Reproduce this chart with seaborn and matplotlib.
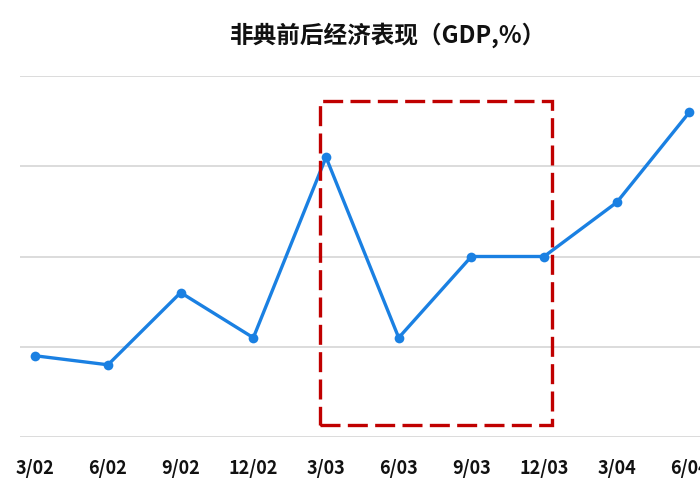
import pandas as pd
import matplotlib
matplotlib.use("Agg")
import matplotlib.pyplot as plt
import matplotlib.patches as patches
import seaborn as sns

# quarterly GDP growth (%)
quarters = ["3/02", "6/02", "9/02", "12/02", "3/03", "6/03", "9/03", "12/03", "3/04", "6/04"]
gdp = [8.9, 8.8, 9.6, 9.1, 11.1, 9.1, 10.0, 10.0, 10.6, 11.6]
y_ticks = [8, 9, 10, 11, 12]

df = pd.DataFrame({"quarter": quarters, "gdp": gdp})

sns.set_style("white")
plt.rcParams["font.family"] = ["Noto Sans CJK SC", "DejaVu Sans"]

fig = plt.figure(figsize=(7, 5), dpi=100)
ax = fig.add_axes([20 / 700, 63 / 500, 1.0, 361 / 500])

sns.lineplot(data=df, x="quarter", y="gdp", sort=False, ax=ax,
             color="#1a80e2", linewidth=2.4, marker="o", markersize=7,
             markeredgewidth=0, zorder=3)

# highlight the SARS period
ax.add_patch(patches.Rectangle((3.92, 8.13), 3.19, 3.59, fill=False,
                               edgecolor="#c00000", linewidth=2.4,
                               linestyle=(0, (6, 2.2)), zorder=4))

ax.set_xlim(-0.21, 9.42)
ax.set_ylim(8, 12)
ax.set_yticks(y_ticks)
ax.set_yticklabels([])
ax.yaxis.grid(True, color="#d9d9d9", linewidth=1.3)
ax.xaxis.grid(False)
for s in ax.spines.values():
    s.set_visible(False)
ax.tick_params(axis="both", length=0)
ax.tick_params(axis="x", pad=16)
for lbl in ax.get_xticklabels():
    lbl.set_fontsize(13)
    lbl.set_fontweight("bold")
    lbl.set_color("#111111")
ax.set_xlabel("")
ax.set_ylabel("")

fig.text(388 / 700, 1 - 35 / 500, "非典前后经济表现（GDP,%）", ha="center", va="center",
         fontsize=17, fontweight="bold", color="#111111")

fig.savefig("out.png", dpi=100)
